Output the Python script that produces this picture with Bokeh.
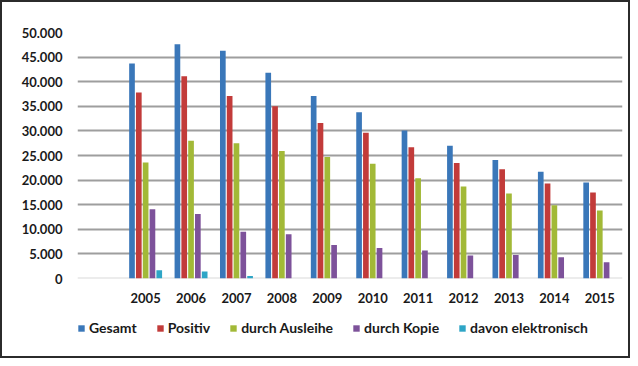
from bokeh.plotting import figure
from bokeh.layouts import column
from bokeh.models import ColumnDataSource, FactorRange, FixedTicker, Legend, LegendItem, Span
from bokeh.transform import dodge
from bokeh.embed import file_html
from bokeh.resources import INLINE

years = ["2005", "2006", "2007", "2008", "2009", "2010", "2011", "2012", "2013", "2014", "2015"]
gesamt = [43700, 47600, 46300, 41800, 37100, 33800, 30100, 27000, 24100, 21700, 19500]
positiv = [37800, 41100, 37100, 35000, 31600, 29600, 26700, 23500, 22200, 19300, 17500]
ausleihe = [23600, 28000, 27500, 25900, 24700, 23300, 20400, 18700, 17300, 14900, 13800]
kopie = [14100, 13100, 9500, 9000, 6800, 6200, 5700, 4700, 4800, 4300, 3300]
elektronisch_years = ["2005", "2006", "2007"]
elektronisch = [1700, 1400, 500]

series_names = ["Gesamt", "Positiv", "durch Ausleihe", "durch Kopie", "davon elektronisch"]
colors = ["#3a77b9", "#c23b3a", "#a2b937", "#7d529a", "#2ea5c6"]

y_ticks = [0, 5000, 10000, 15000, 20000, 25000, 30000, 35000, 40000, 45000, 50000]
y_labels = ["0", "5.000", "10.000", "15.000", "20.000", "25.000", "30.000", "35.000", "40.000", "45.000", "50.000"]

FONT = "Lato"
TXT = "#1a1a1a"

p = figure(x_range=FactorRange(factors=[" "] + years, range_padding=0),
           y_range=(0, 50000), width=626, height=306,
           output_backend="svg", toolbar_location=None,
           min_border_left=75, min_border_right=6, min_border_top=30, min_border_bottom=30)
p.outline_line_color = None
p.background_fill_color = "white"
p.border_fill_color = "white"

series = [(years, gesamt), (years, positiv), (years, ausleihe), (years, kopie),
          (elektronisch_years, elektronisch)]
offsets = [-0.30, -0.15, 0.0, 0.15, 0.30]
for (xs, vals), off, col in zip(series, offsets, colors):
    src = ColumnDataSource(dict(x=xs, top=vals))
    p.vbar(x=dodge("x", off, range=p.x_range), top="top", width=0.125, source=src,
           fill_color=col, line_color=None)

p.yaxis.ticker = FixedTicker(ticks=y_ticks)
p.yaxis.major_label_overrides = {t: l for t, l in zip(y_ticks, y_labels)}
p.ygrid.ticker = FixedTicker(ticks=y_ticks[1:])
p.ygrid.grid_line_color = "#9e9e9e"
p.ygrid.grid_line_width = 2
p.xgrid.grid_line_color = None
p.add_layout(Span(location=0, dimension="width", line_color="#d9d9d9", line_width=2, level="underlay"))

for ax in (p.xaxis, p.yaxis):
    ax.axis_line_color = None
    ax.major_tick_line_color = None
    ax.minor_tick_line_color = None
    ax.major_tick_out = 0
    ax.major_tick_in = 0
    ax.minor_tick_out = 0
    ax.major_label_text_font = FONT
    ax.major_label_text_font_style = "bold"
    ax.major_label_text_font_size = "13px"
    ax.major_label_text_color = TXT
p.xaxis.major_label_standoff = 11
p.yaxis.major_label_standoff = 15

# legend strip below the chart (its frame is aligned with the chart's frame)
lg = figure(width=626, height=48, x_range=(0, 1), y_range=(0, 1),
            x_axis_location=None, y_axis_location=None,
            output_backend="svg", toolbar_location=None,
            min_border_left=0, min_border_right=0, min_border_top=0, min_border_bottom=0)
lg.grid.visible = False
lg.outline_line_color = None
items = []
for name, col in zip(series_names, colors):
    r = lg.vbar(x=[0.5], top=[0], width=0, fill_color=col, line_color=None)
    items.append(LegendItem(label=name, renderers=[r]))
legend = Legend(items=items, orientation="horizontal", location=(0, 20),
                glyph_width=8, glyph_height=8, label_standoff=4, spacing=19, padding=0,
                label_text_font=FONT, label_text_font_style="bold", label_text_font_size="14px",
                label_text_color=TXT, border_line_color=None, background_fill_alpha=0,
                label_height=16, margin=0)
lg.add_layout(legend, "center")

layout = column(p, lg, spacing=0, styles={"border": "2px solid #2b2b2b"})

open("out.html", "w").write(file_html(layout, INLINE))
